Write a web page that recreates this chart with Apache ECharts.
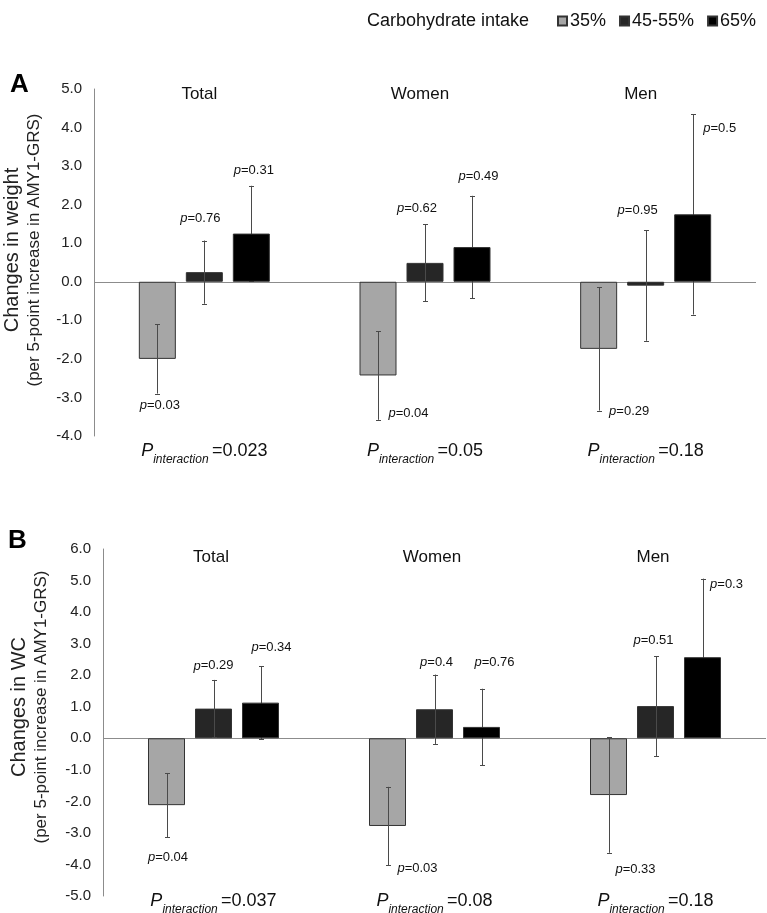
<!DOCTYPE html>
<html><head><meta charset="utf-8">
<script src="https://cdn.jsdelivr.net/npm/echarts@6/dist/echarts.min.js"></script>
<style>html,body{margin:0;padding:0;background:#fff}#c{width:767px;height:913px}</style>
</head><body><div id="c"></div>
<script>
// ---------- DATA ----------
const groups = ['Total', 'Women', 'Men'];
const intakeLevels = ['35%', '45-55%', '65%'];

// Panel A: changes in weight
const weight35 = [-2.00, -2.43, -1.74];
const weight4555 = [0.25, 0.49, -0.10];
const weight65 = [1.25, 0.90, 1.75];
const weightErr35 = [0.90, 1.15, 1.60];
const weightErr4555 = [0.82, 1.00, 1.43];
const weightErr65 = [1.24, 1.33, 2.60];
const weightP35 = ['0.03', '0.04', '0.29'];
const weightP4555 = ['0.76', '0.62', '0.95'];
const weightP65 = ['0.31', '0.49', '0.5'];
const weightPint = ['0.023', '0.05', '0.18'];

// Panel B: changes in WC
const wc35 = [-2.12, -2.78, -1.80];
const wc4555 = [0.94, 0.92, 1.02];
const wc65 = [1.13, 0.36, 2.57];
const wcErr35 = [1.02, 1.24, 1.83];
const wcErr4555 = [0.91, 1.10, 1.58];
const wcErr65 = [1.16, 1.21, 2.49];
const wcP35 = ['0.04', '0.03', '0.33'];
const wcP4555 = ['0.29', '0.4', '0.51'];
const wcP65 = ['0.34', '0.76', '0.3'];
const wcPint = ['0.037', '0.08', '0.18'];

// ---------- LAYOUT / STYLE ----------
const FONT = '"Liberation Sans", Arial, sans-serif';
const COLORS = ['#a6a6a6', '#262626', '#000000'];
const BAR_W = 37;
const BAR_STEP = 47;
// p-label pixel offsets from the error-bar end (lower end for 35%, upper end otherwise), [group][level] -> [dx, dy]
const pOffsetA = [
  [[2.5, 12], [-4, -22], [2.5, -15]],
  [[30.5, -6], [-8, -16], [6.5, -19]],
  [[30.5, 1], [-8, -20], [27, 14]]
];
const pOffsetB = [
  [[1.5, 20], [0, -14], [11, -19]],
  [[30, 3], [2, -12], [13, -26]],
  [[27, 17], [-2, -16], [24, 6]]
];

const panels = [
  { means: [weight35, weight4555, weight65], errs: [weightErr35, weightErr4555, weightErr65],
    ps: [weightP35, weightP4555, weightP65], pint: weightPint, min: -4, max: 5,
    name1: 'Changes in weight', offsets: pOffsetA,
    grid: { left: 94, width: 662, top: 89, height: 347, outerBoundsMode: 'none', containLabel: false },
    namePad: 25, nameGap: 50, titleMargin: -14, titlePad: 10, pintMargin: 0 },
  { means: [wc35, wc4555, wc65], errs: [wcErr35, wcErr4555, wcErr65],
    ps: [wcP35, wcP4555, wcP65], pint: wcPint, min: -5, max: 6,
    name1: 'Changes in WC', offsets: pOffsetB,
    grid: { left: 103, width: 663, top: 549, height: 347, outerBoundsMode: 'none', containLabel: false },
    namePad: 31, nameGap: 52, titleMargin: -17, titlePad: 5, pintMargin: -10 }
];

function makeErrSeries(p, i, levelList, z) {
  const errData = [];
  groups.forEach((g, gi) => {
    levelList.forEach(k => {
      errData.push([gi, k, p.means[k][gi], p.errs[k][gi], p.ps[k][gi]]);
    });
  });
  return {
    type: 'custom', xAxisIndex: 2 * i, yAxisIndex: i, z: z, silent: true,
    data: errData,
    renderItem: (params, api) => {
      const gi = api.value(0), k = api.value(1), m = api.value(2), e = api.value(3);
      const pTxt = errData[params.dataIndex][4];
      const cx = api.coord([gi, 0])[0] + (k - 1) * BAR_STEP;
      const yTop = api.coord([gi, m + e])[1];
      const yBot = api.coord([gi, m - e])[1];
      const off = p.offsets[gi][k];
      const ay = k === 0 ? yBot : yTop;
      const ls = { stroke: '#4a4a4a', lineWidth: 1 };
      const xx = Math.round(cx) + 0.5;
      return {
        type: 'group',
        children: [
          { type: 'line', shape: { x1: xx, y1: yTop, x2: xx, y2: yBot }, style: ls },
          { type: 'line', shape: { x1: xx - 2.5, y1: Math.round(yTop) + 0.5, x2: xx + 2.5, y2: Math.round(yTop) + 0.5 }, style: ls },
          { type: 'line', shape: { x1: xx - 2.5, y1: Math.round(yBot) + 0.5, x2: xx + 2.5, y2: Math.round(yBot) + 0.5 }, style: ls },
          { type: 'text', z2: 10, style: {
              text: '{i|p}=' + pTxt, x: cx + off[0], y: ay + off[1],
              align: 'center', verticalAlign: 'middle',
              fontSize: 13, fontFamily: FONT, fill: '#111',
              rich: { i: { fontStyle: 'italic', fontSize: 13, fontFamily: FONT, fill: '#111' } }
          } }
        ]
      };
    }
  };
}

const grid = [], xAxis = [], yAxis = [], series = [];
panels.forEach((p, i) => {
  grid.push(p.grid);
  // bottom axis: P interaction labels
  xAxis.push({
    type: 'category', gridIndex: i, data: groups, position: 'bottom',
    axisLine: { show: false }, axisTick: { show: false },
    axisLabel: {
      interval: 0, margin: p.pintMargin,
      formatter: (v, idx) => '{P|P}{s|interaction }{v|=' + p.pint[idx] + '}',
      rich: {
        P: { fontSize: 18, fontStyle: 'italic', fontFamily: FONT, color: '#111', lineHeight: 30, verticalAlign: 'middle' },
        s: { fontSize: 12, fontStyle: 'italic', fontFamily: FONT, color: '#111', lineHeight: 14, verticalAlign: 'bottom' },
        v: { fontSize: 18, fontFamily: FONT, color: '#111', lineHeight: 30, verticalAlign: 'middle' }
      }
    }
  });
  // top axis: group titles
  xAxis.push({
    type: 'category', gridIndex: i, data: groups, position: 'top',
    axisLine: { show: false }, axisTick: { show: false },
    axisLabel: { interval: 0, margin: p.titleMargin, fontSize: 17, fontFamily: FONT, color: '#111', padding: [0, p.titlePad, 0, 0] }
  });
  yAxis.push({
    type: 'value', gridIndex: i, min: p.min, max: p.max, interval: 1,
    axisLine: { show: true, lineStyle: { color: '#8c8c8c', width: 1 } },
    axisTick: { show: false }, splitLine: { show: false },
    axisLabel: { formatter: v => v.toFixed(1), fontSize: 15, fontFamily: FONT, color: '#222', margin: 12 },
    name: '{a|' + p.name1 + '}\n{b|(per 5-point increase in AMY1-GRS)}',
    nameLocation: 'middle', nameRotate: 90, nameGap: p.nameGap,
    nameTextStyle: {
      padding: [0, 0, 0, p.namePad],
      rich: {
        a: { fontSize: 20, lineHeight: 23, fontFamily: FONT, color: '#222' },
        b: { fontSize: 17, lineHeight: 20, fontFamily: FONT, color: '#222' }
      }
    }
  });
  intakeLevels.forEach((lvl, k) => {
    const s = {
      type: 'bar', name: lvl, xAxisIndex: 2 * i, yAxisIndex: i,
      data: p.means[k], barWidth: BAR_W, barGap: (10 / BAR_W * 100) + '%',
      itemStyle: { color: COLORS[k], borderColor: '#333', borderWidth: 1 },
      z: 2
    };
    if (k === 0) {
      s.markLine = {
        silent: true, symbol: ['none', 'none'], label: { show: false },
        lineStyle: { color: '#8c8c8c', width: 1, type: 'solid' },
        data: [{ yAxis: 0 }], z: 1
      };
    }
    series.push(s);
  });
  series.push(makeErrSeries(p, i, [0, 1], 5));
  series.push(makeErrSeries(p, i, [2], 1));
});

const chart = echarts.init(document.getElementById('c'));
chart.setOption({
  animation: false,
  backgroundColor: '#fff',
  title: [
    { text: 'A', left: 10, top: 72, padding: 0, textStyle: { fontSize: 26, fontWeight: 'bold', fontFamily: FONT, color: '#000' } },
    { text: 'B', left: 8, top: 528, padding: 0, textStyle: { fontSize: 26, fontWeight: 'bold', fontFamily: FONT, color: '#000' } },
    { text: 'Carbohydrate intake', left: 367, top: 12, padding: 0, textStyle: { fontSize: 18, fontWeight: 'normal', fontFamily: FONT, color: '#111' } }
  ],
  legend: {
    data: intakeLevels, left: 557, top: 12, padding: 0, itemGap: 13,
    itemWidth: 9, itemHeight: 9, icon: 'rect', selectedMode: false,
    textStyle: { fontSize: 18, fontFamily: FONT, color: '#111', padding: [0, 0, 0, -2] }
  },
  grid, xAxis, yAxis, series
});
</script></body></html>
